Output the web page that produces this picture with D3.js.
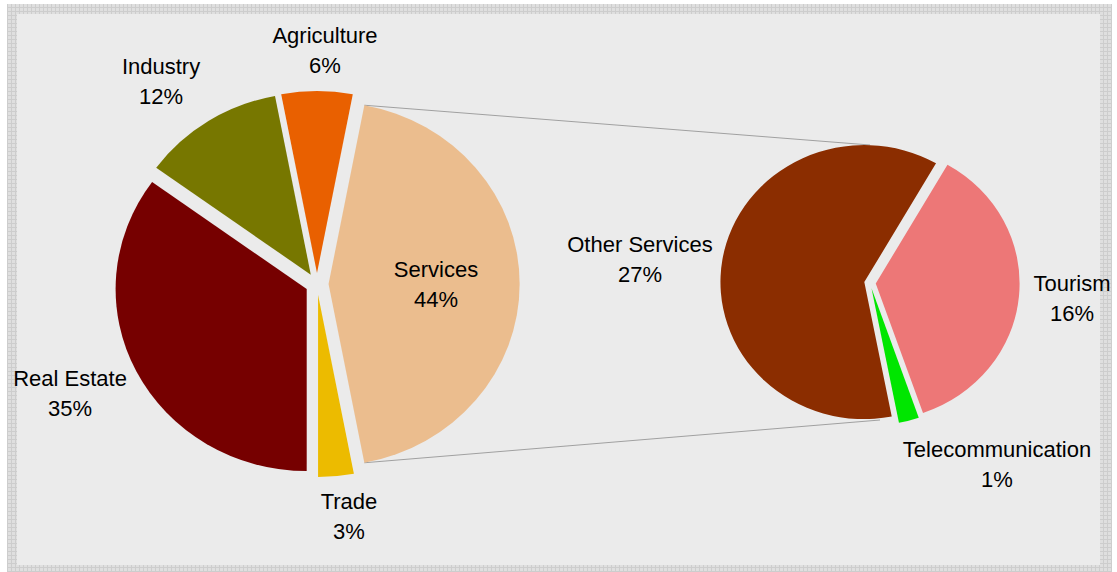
<!DOCTYPE html>
<html>
<head>
<meta charset="utf-8">
<script src="https://cdn.jsdelivr.net/npm/d3@7"></script>
<style>
  html, body { margin: 0; padding: 0; background: #ffffff; }
  svg { display: block; }
  text { font-family: "Liberation Sans", Arial, sans-serif; font-size: 22px; fill: #000; }
</style>
</head>
<body>
<svg id="chart" width="1117" height="572"></svg>
<script>
// Main pie: sectors of the economy (percent)
const mainCategories = ["Services", "Trade", "Real Estate", "Industry", "Agriculture"];
const mainValues = [44, 3, 35, 12, 6];
const mainColors = ["#ebbd8e", "#ecbb00", "#760000", "#777700", "#e96000"];

// Secondary pie: breakdown of Services (percent of total)
const subCategories = ["Other Services", "Tourism", "Telecommunication"];
const subValues = [27, 16, 1];
const subColors = ["#8b2d00", "#ed7777", "#00e600"];

const W = 1117, H = 572;
const svg = d3.select("#chart");

// Textured frame and plot background
const defs = svg.append("defs");
const pat = defs.append("pattern")
  .attr("id", "frameTex").attr("width", 4).attr("height", 4)
  .attr("patternUnits", "userSpaceOnUse");
pat.append("rect").attr("width", 4).attr("height", 4).attr("fill", "#cdcdcd");
pat.append("rect").attr("width", 3).attr("height", 3).attr("fill", "#dfdfdf");

svg.append("rect").attr("x", 7).attr("y", 4).attr("width", 1105).attr("height", 568)
  .attr("fill", "url(#frameTex)");
svg.append("rect").attr("x", 17).attr("y", 14).attr("width", 1083).attr("height", 551)
  .attr("fill", "#ebebeb");

const stretch = 1.05;   // plot area is slightly wider than tall
const deg = Math.PI / 180;

// Main pie geometry
const main = { cx: 317, cy: 284, r: 182, explode: 11 };
// Secondary pie geometry
const sub = { cx: 870, cy: 283, r: 137, explode: 5.5 };

// Services (split slice) centred on 3 o'clock
const mainSpan = 2 * Math.PI * mainValues[0] / d3.sum(mainValues);
const mainStart = Math.PI / 2 - mainSpan / 2;
const mainPie = d3.pie().sort(null).value(d => d)
  .startAngle(mainStart).endAngle(mainStart + 2 * Math.PI);
const mainArcs = mainPie(mainValues);

const subStart = 169 * deg;
const subPie = d3.pie().sort(null).value(d => d)
  .startAngle(subStart).endAngle(subStart + 2 * Math.PI);
const subArcs = subPie(subValues);

function offset(a, e) {
  const mid = (a.startAngle + a.endAngle) / 2;
  return [e * Math.sin(mid), -e * Math.cos(mid)];
}
// Point on an exploded slice, in page coordinates
function pagePoint(geo, a, angle) {
  const [ox, oy] = offset(a, geo.explode);
  return [geo.cx + stretch * (ox + geo.r * Math.sin(angle)),
          geo.cy + (oy - geo.r * Math.cos(angle))];
}

// Connector lines between the Services slice and the secondary pie
const sv = mainArcs[0];
const pTop = pagePoint(main, sv, sv.startAngle);
const pBot = pagePoint(main, sv, sv.endAngle);
svg.append("line")
  .attr("x1", pTop[0]).attr("y1", pTop[1])
  .attr("x2", sub.cx).attr("y2", sub.cy - sub.r - 1)
  .attr("stroke", "#a0a0a0").attr("stroke-width", 1);
svg.append("line")
  .attr("x1", pBot[0]).attr("y1", pBot[1])
  .attr("x2", sub.cx + 10).attr("y2", sub.cy + sub.r)
  .attr("stroke", "#a0a0a0").attr("stroke-width", 1);

function drawPie(geo, arcs, colors) {
  const arc = d3.arc().innerRadius(0).outerRadius(geo.r);
  const g = svg.append("g")
    .attr("transform", `translate(${geo.cx},${geo.cy}) scale(${stretch},1)`);
  g.selectAll("path").data(arcs).join("path")
    .attr("d", arc)
    .attr("fill", (d, i) => colors[i])
    .attr("transform", d => {
      const [ox, oy] = offset(d, geo.explode);
      return `translate(${ox},${oy})`;
    });
}
drawPie(main, mainArcs, mainColors);
drawPie(sub, subArcs, subColors);

// Two-line data labels: name and percentage
const mainLabelPos = [[436, 277], [349, 509], [70, 386], [161, 74], [325, 43]];
const subLabelPos = [[640, 252], [1072, 291], [997, 457]];

function label(name, value, x, y) {
  const t = svg.append("g").attr("transform", `translate(${x},${y})`);
  t.append("text").attr("text-anchor", "middle").attr("x", 0).attr("y", 0).text(name);
  t.append("text").attr("text-anchor", "middle").attr("x", 0).attr("y", 30).text(value + "%");
}
mainCategories.forEach((c, i) => label(c, mainValues[i], mainLabelPos[i][0], mainLabelPos[i][1]));
subCategories.forEach((c, i) => label(c, subValues[i], subLabelPos[i][0], subLabelPos[i][1]));
</script>
</body>
</html>
